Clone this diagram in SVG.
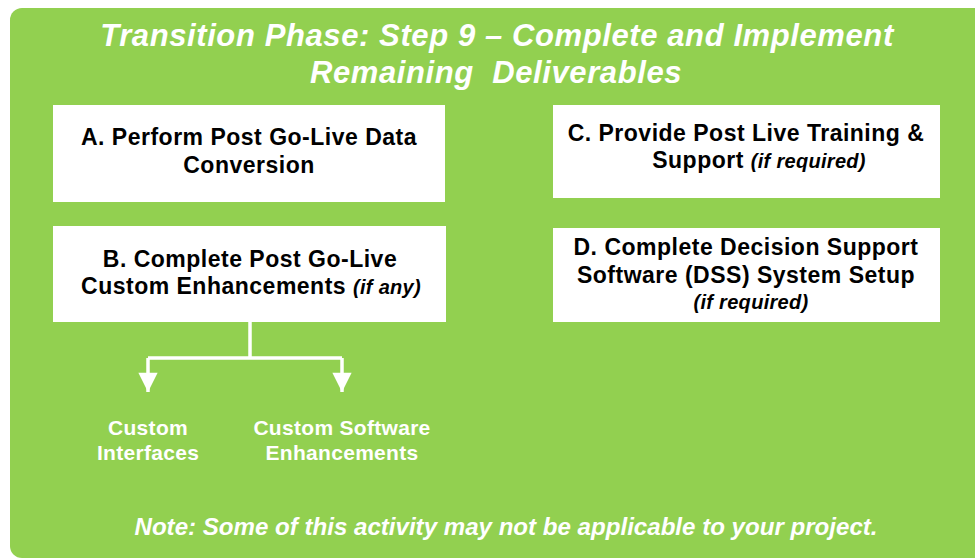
<svg xmlns="http://www.w3.org/2000/svg" width="975" height="560" viewBox="0 0 975 560">
  <style>
    .panel { fill: #92D050; }
    .box { fill: #FFFFFF; }
    .title { font-family: "Liberation Sans", Arial, sans-serif; font-size: 31px; font-weight: bold; font-style: italic; fill: #FFFFFF; text-anchor: middle; letter-spacing: 0.6px; }
    .label { font-family: "Liberation Sans", Arial, sans-serif; font-size: 23px; font-weight: bold; fill: #000000; text-anchor: middle; letter-spacing: 0.5px; }
    .em { font-style: italic; font-size: 20px; letter-spacing: 0.3px; }
    .sub { font-family: "Liberation Sans", Arial, sans-serif; font-size: 21px; font-weight: bold; fill: #FFFFFF; text-anchor: middle; letter-spacing: 0.3px; }
    .note { font-family: "Liberation Sans", Arial, sans-serif; font-size: 24px; font-weight: bold; font-style: italic; fill: #FFFFFF; text-anchor: middle; }
    .conn { fill: none; stroke: #FFFFFF; stroke-width: 3.5; }
  </style>
  <defs>
    <marker id="arrow" viewBox="0 0 10 10" refX="10" refY="5" markerWidth="5.8" markerHeight="5.5" markerUnits="strokeWidth" orient="auto">
      <path d="M0,0 L10,5 L0,10 Z" fill="#FFFFFF"/>
    </marker>
  </defs>

  <!-- background panel -->
  <rect class="panel" x="10" y="8" width="990" height="550" rx="12" ry="12"/>

  <!-- heading -->
  <g id="title">
    <text class="title" x="497" y="46">Transition Phase: Step 9 – Complete and Implement</text>
    <text class="title" x="496" y="83">Remaining&#160; Deliverables</text>
  </g>

  <g id="nodeA">
    <rect class="box" x="53" y="105" width="392" height="97"/>
    <text class="label" x="249" y="145">A. Perform Post Go-Live Data</text>
    <text class="label" x="249" y="173">Conversion</text>
  </g>

  <g id="nodeB">
    <rect class="box" x="53" y="226" width="393" height="96"/>
    <text class="label" x="250" y="267">B. Complete Post Go-Live</text>
    <text class="label" x="251" y="294">Custom Enhancements <tspan class="em">(if any)</tspan></text>
  </g>

  <g id="nodeC">
    <rect class="box" x="553" y="105" width="387" height="93"/>
    <text class="label" x="746" y="141">C. Provide Post Live Training &amp;</text>
    <text class="label" x="759" y="168">Support <tspan class="em">(if required)</tspan></text>
  </g>

  <g id="nodeD">
    <rect class="box" x="553" y="228" width="387" height="94"/>
    <text class="label" x="746" y="255">D. Complete Decision Support</text>
    <text class="label" x="746" y="283">Software (DSS) System Setup</text>
    <text class="label em" x="751" y="309">(if required)</text>
  </g>

  <g id="connectors">
    <path class="conn" d="M250,322 V358 M148,358 H342"/>
    <path class="conn" d="M148,358 V392" marker-end="url(#arrow)"/>
    <path class="conn" d="M342,358 V392" marker-end="url(#arrow)"/>
  </g>

  <g id="customInterfaces">
    <text class="sub" x="148" y="435">Custom</text>
    <text class="sub" x="148" y="460">Interfaces</text>
  </g>

  <g id="customSoftware">
    <text class="sub" x="342" y="435">Custom Software</text>
    <text class="sub" x="342" y="460">Enhancements</text>
  </g>

  <text class="note" x="506" y="535" textLength="743" lengthAdjust="spacingAndGlyphs">Note: Some of this activity may not be applicable to your project.</text>
</svg>
